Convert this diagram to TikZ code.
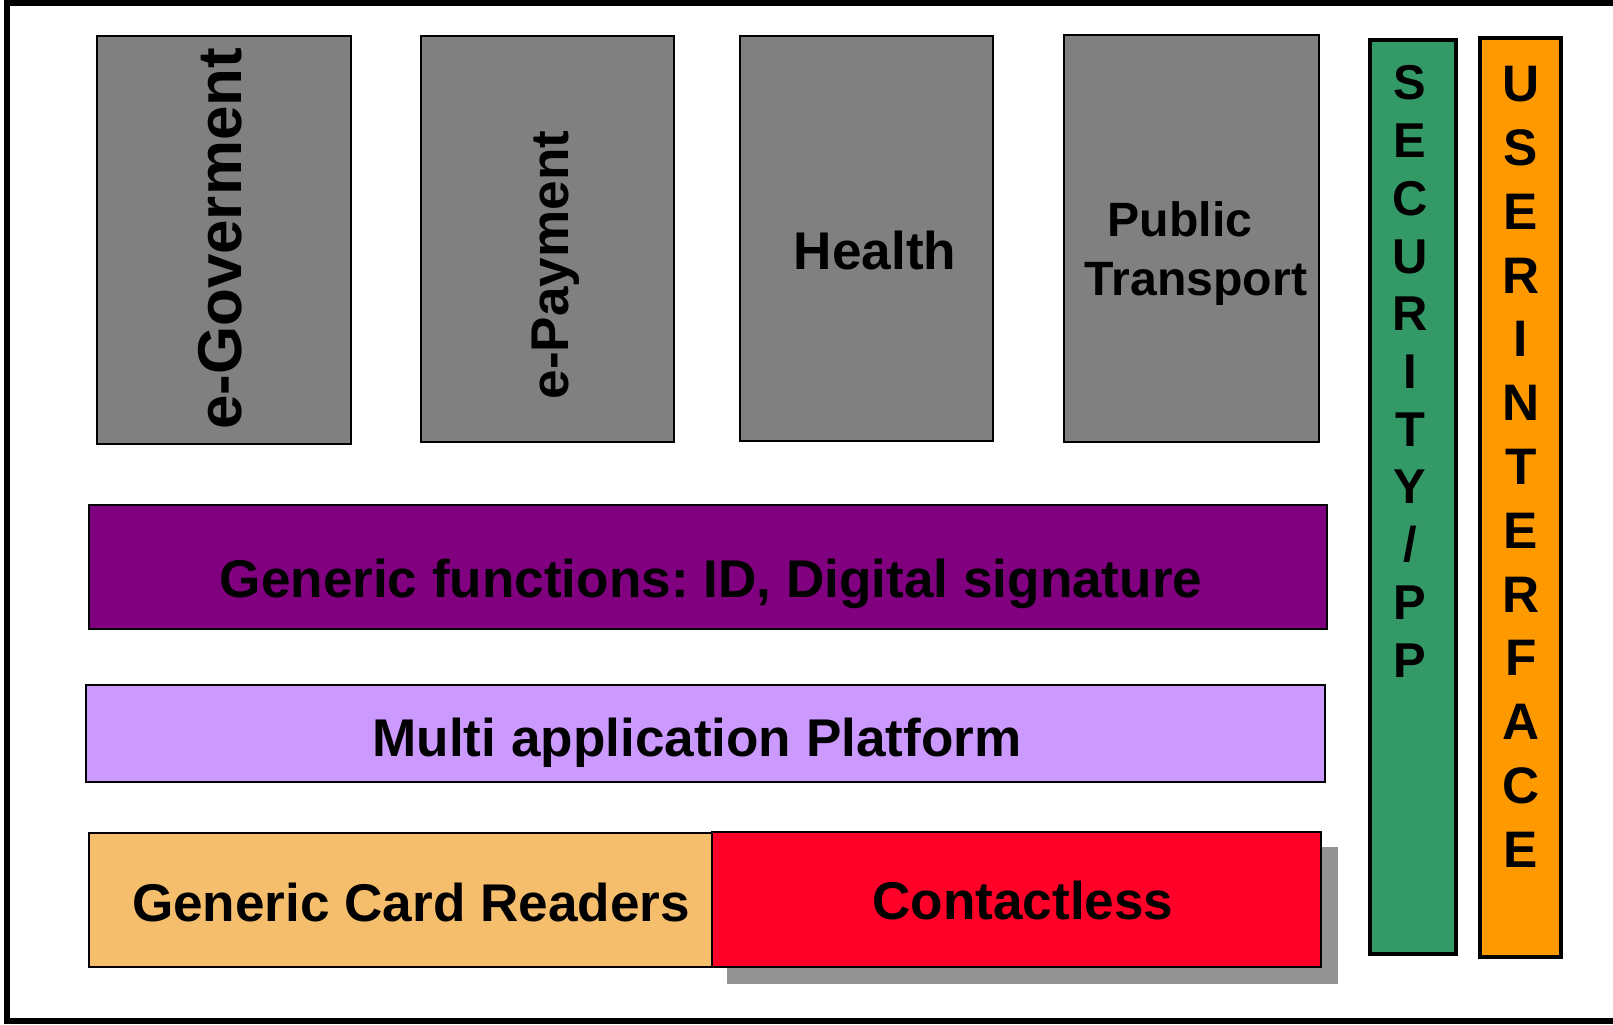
\documentclass[tikz,border=0pt]{standalone}
\usepackage{fontspec}
\setmainfont{Liberation Sans}
\frenchspacing
\definecolor{appgray}{HTML}{808080}
\definecolor{genpurple}{HTML}{800080}
\definecolor{platlilac}{HTML}{CC99FF}
\definecolor{readerorange}{HTML}{F5BE6C}
\definecolor{clessred}{HTML}{FF0028}
\definecolor{shadowgray}{HTML}{939393}
\definecolor{secgreen}{HTML}{339966}
\definecolor{uiorange}{HTML}{FF9900}
\begin{document}
\begin{tikzpicture}[x=0.01cm, y=-0.01cm,
boxtext/.style={font=\bfseries\fontsize{15.1}{18}\selectfont, inner sep=0pt, anchor=base},
sectext/.style={font=\bfseries\fontsize{13.9}{16}\selectfont, inner sep=0pt, anchor=base},
uitext/.style={font=\bfseries\fontsize{14.6}{17}\selectfont, inner sep=0pt, anchor=base},]

	\useasboundingbox (0,0) rectangle (1613,1025);
	\draw[black, line width=1.7pt] (7,3) rectangle (1660,1021);

	\filldraw[fill=appgray, draw=black, line width=0.6pt] (97,36) rectangle (351,444);
	\filldraw[fill=appgray, draw=black, line width=0.6pt] (421,36) rectangle (674,442);
	\filldraw[fill=appgray, draw=black, line width=0.6pt] (740,36) rectangle (993,441);
	\filldraw[fill=appgray, draw=black, line width=0.6pt] (1064,35) rectangle (1319,442);

	\filldraw[fill=genpurple, draw=black, line width=0.6pt] (89,505) rectangle (1327,629);
	\filldraw[fill=platlilac, draw=black, line width=0.6pt] (86,685) rectangle (1325,782);

	\fill[shadowgray] (727,847) rectangle (1338,984);
	\filldraw[fill=readerorange, draw=black, line width=0.6pt] (89,833) rectangle (712,967);
	\filldraw[fill=clessred, draw=black, line width=0.6pt] (712,832) rectangle (1321,967);

	\filldraw[fill=secgreen, draw=black, line width=0.95pt] (1370,40) rectangle (1456,954);
	\filldraw[fill=uiorange, draw=black, line width=0.95pt] (1480,38) rectangle (1561,957);

	\node (egov) [boxtext, rotate=90, font=\bfseries\fontsize{17.6}{20}\selectfont] at (241, 239) {e-Goverment};
	\node (epay) [boxtext, rotate=90] at (568, 265) {e-Payment};
	\node (health) [boxtext] at (875, 270) {Health};
	\node (public) [boxtext, font=\bfseries\fontsize{13.7}{16.8}\selectfont] at (1180, 237) {Public};
	\node (transport) [boxtext, font=\bfseries\fontsize{13.7}{16.8}\selectfont] at (1196, 296) {Transport};

	\node (generic) [boxtext] at (711, 597) {Generic functions: ID, Digital signature};
	\node (platform) [boxtext] at (697, 756) {Multi application Platform};
	\node (readers) [boxtext] at (411, 921) {Generic Card Readers};
	\node (contactless) [boxtext] at (1023, 919) {Contactless};

	\foreach \ch [count=\i from 0] in {S,E,C,U,R,I,T,Y,/,P,P}
		\node (sec\i) [sectext] at (1410, {100+57.7*\i}) {\ch};
	\foreach \ch [count=\i from 0] in {U,S,E,R,I,N,T,E,R,F,A,C,E}
		\node (ui\i) [uitext] at (1521, {102+63.75*\i}) {\ch};

\end{tikzpicture}
\end{document}
